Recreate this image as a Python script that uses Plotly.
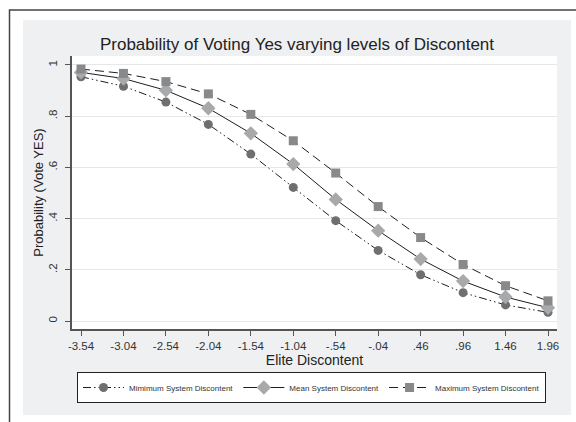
import plotly.graph_objects as go

elite = [-3.54, -3.04, -2.54, -2.04, -1.54, -1.04, -0.54, -0.04, 0.46, 0.96, 1.46, 1.96]
x_ticktext = ["-3.54", "-3.04", "-2.54", "-2.04", "-1.54", "-1.04", "-.54", "-.04", ".46", ".96", "1.46", "1.96"]
min_vals = [0.954, 0.917, 0.855, 0.768, 0.652, 0.522, 0.392, 0.276, 0.181, 0.111, 0.063, 0.034]
mean_vals = [0.971, 0.947, 0.901, 0.831, 0.733, 0.613, 0.475, 0.353, 0.242, 0.156, 0.094, 0.052]
max_vals = [0.984, 0.967, 0.935, 0.887, 0.807, 0.704, 0.578, 0.447, 0.326, 0.221, 0.138, 0.079]
y_tickvals = [0, 0.2, 0.4, 0.6, 0.8, 1]
y_ticktext = ["0", ".2", ".4", ".6", ".8", "1"]
series_names = ["Mimimum System Discontent", "Mean System Discontent", "Maximum System Discontent"]

FONT = "Liberation Sans, Arial, sans-serif"
LINE = "#1e1e1e"
GRAYBG = "#eff0f2"

fig = go.Figure()
fig.add_trace(go.Scatter(
    x=elite, y=min_vals, name=series_names[0], mode="lines+markers",
    line=dict(color=LINE, width=1, dash="8px,3px,1.5px,3px,1.5px,3px"),
    marker=dict(symbol="circle", size=9, color="#6e6f71", line=dict(width=0)),
))
fig.add_trace(go.Scatter(
    x=elite, y=mean_vals, name=series_names[1], mode="lines+markers",
    line=dict(color=LINE, width=1),
    marker=dict(symbol="diamond", size=11, color="#a8a9ab", line=dict(width=0)),
))
fig.add_trace(go.Scatter(
    x=elite, y=max_vals, name=series_names[2], mode="lines+markers",
    line=dict(color=LINE, width=1, dash="9px,5px"),
    marker=dict(symbol="square", size=9, color="#88898b", line=dict(width=0)),
))

L, R, T, B = 72, 19, 56, 93
W, H = 576, 422
pw, ph = W - L - R, H - T - B

def px(xp):
    return (xp - L) / pw

def py(yp):
    return (H - B - yp) / ph

def white_rect(x0, y0, x1, y1):
    return dict(type="rect", xref="paper", yref="paper", layer="below",
                x0=px(x0), x1=px(x1), y0=py(y1), y1=py(y0),
                fillcolor="white", line=dict(width=0))

shapes = [
    white_rect(-5, -5, 585, 20),
    white_rect(-5, -5, 23, 430),
    white_rect(571, -5, 585, 430),
    white_rect(-5, 415, 585, 430),
    dict(type="path", xref="paper", yref="paper", layer="above",
         path=f"M {px(9.5)},{py(430)} L {px(9.5)},{py(10)} L {px(590)},{py(10)}",
         line=dict(color="#444444", width=1.5)),
]

fig.update_layout(
    width=W, height=H,
    margin=dict(l=L, r=R, t=T, b=B),
    paper_bgcolor=GRAYBG, plot_bgcolor="white",
    font=dict(family=FONT, color="#222222"),
    shapes=shapes,
    title=dict(text="Probability of Voting Yes varying levels of Discontent",
               x=px(297), xref="paper", xanchor="center",
               y=1 - 44 / H, yanchor="middle",
               font=dict(size=17, color="#222222", family=FONT)),
    showlegend=True,
    legend=dict(orientation="h", x=px(77), xanchor="left", y=py(372), yanchor="top",
                bgcolor="white", bordercolor="#222222", borderwidth=1,
                font=dict(size=8, family=FONT, color="#333333"),
                itemwidth=41),
    xaxis=dict(range=[-3.646, 2.066], tickvals=elite, ticktext=x_ticktext,
               showgrid=False, zeroline=False, showline=True, linecolor="#555555", linewidth=1.5,
               ticks="outside", ticklen=5, tickcolor="#555555", tickwidth=1,
               tickfont=dict(size=11.5, color="#333333"),
               title=dict(text="Elite Discontent", font=dict(size=14, color="#222222"), standoff=0)),
    yaxis=dict(range=[-0.031, 1.035], tickvals=y_tickvals, ticktext=y_ticktext,
               showgrid=True, gridcolor="#e6e7e9", gridwidth=1.2, zeroline=False,
               showline=True, linecolor="#555555", linewidth=1.5,
               ticks="outside", ticklen=5, tickcolor="#555555", tickwidth=1,
               ticklabelstandoff=4,
               tickangle=-90, tickfont=dict(size=11.5, color="#333333"),
               title=dict(text="Probability (Vote YES)", font=dict(size=13, color="#222222"), standoff=0)),
)

fig.write_html("out.html", config={"displayModeBar": False},
               post_script="document.body.style.margin='0';document.body.style.overflow='hidden';")
